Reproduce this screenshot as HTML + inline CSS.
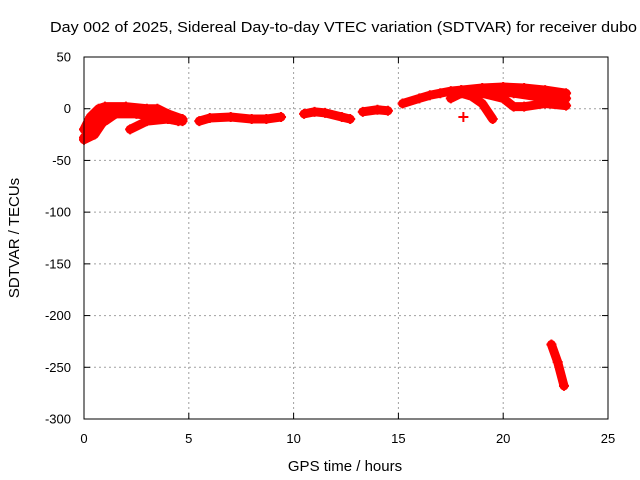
<!DOCTYPE html>
<html><head><meta charset="utf-8"><style>
body{margin:0;background:#fff}
svg{display:block;font-family:"Liberation Sans",sans-serif}
</style></head><body>
<svg id="chart" width="640" height="480" viewBox="0 0 640 480" xmlns="http://www.w3.org/2000/svg">
<text x="50" y="32" font-size="14.5" textLength="587" lengthAdjust="spacingAndGlyphs">Day 002 of 2025, Sidereal Day-to-day VTEC variation (SDTVAR) for receiver dubo</text>
<text x="345" y="471" font-size="15" text-anchor="middle">GPS time / hours</text>
<text transform="translate(19,238) rotate(-90)" font-size="15" text-anchor="middle">SDTVAR / TECUs</text>
<g id="grid"></g>
<g id="axes"></g>
<g id="marks"></g>
<rect x="84" y="57" width="524" height="362" fill="none" stroke="#000" stroke-width="1"/>
</svg>
<script>
const xTicks=[0,5,10,15,20,25];
const yTicks=[50,0,-50,-100,-150,-200,-250,-300];
const trackATime=[0,0.3,0.7,1,2,3,3.5,4,4.7];
const trackAVal=[-20,-8,0,2,2,0,0,-5,-10];
const trackBTime=[0,0.5,1,1.5,2,2.6];
const trackBVal=[-30,-25,-10,-5,-2,0];
const trackCTime=[0.3,1,1.5,2.5,3.5,4.5];
const trackCVal=[-20,-12,-5,-5,-8,-12];
const trackDTime=[2.2,3,4,4.7];
const trackDVal=[-20,-12,-10,-12];
const trackETime=[0,0.5,1.2];
const trackEVal=[-28,-15,-2];
const trackFTime=[5.5,6,7,8,8.7,9.4];
const trackFVal=[-12,-9,-8,-10,-10,-8];
const trackGTime=[10.5,11,11.5,12.3,12.7];
const trackGVal=[-5,-3,-4,-8,-10];
const trackHTime=[13.3,14,14.5];
const trackHVal=[-3,-1,-2];
const trackITime=[15.2,16,16.5,17,17.5,18,19,20,21,22,23];
const trackIVal=[5,10,13,15,17,18,20,21,20,18,15];
const trackJTime=[17.5,18,18.5,19,19.5];
const trackJVal=[10,15,12,5,-10];
const trackKTime=[18,19,20,20.5,21,22,23];
const trackKVal=[18,15,10,2,2,5,3];
const trackLTime=[19.5,20.5,21.5,23];
const trackLVal=[18,15,12,10];
const trackMTime=[22.3,22.6,22.9];
const trackMVal=[-228,-245,-268];
const isoTime=[18.1];
const isoVal=[-8];
const tracks=[[trackATime,trackAVal],[trackBTime,trackBVal],[trackCTime,trackCVal],[trackDTime,trackDVal],[trackETime,trackEVal],[trackFTime,trackFVal],[trackGTime,trackGVal],[trackHTime,trackHVal],[trackITime,trackIVal],[trackJTime,trackJVal],[trackKTime,trackKVal],[trackLTime,trackLVal],[trackMTime,trackMVal],[isoTime,isoVal]];
const X0=84,X1=608,Y0=57,Y1=419;
function sx(h){return X0+(h-0)/(25-0)*(X1-X0);}
function sy(v){return Y0+(50-v)/(50-(-300))*(Y1-Y0);}
const NS="http://www.w3.org/2000/svg";
const grid=document.getElementById('grid'),axes=document.getElementById('axes'),marks=document.getElementById('marks');
function mk(t,a,p){const e=document.createElementNS(NS,t);for(const k in a)e.setAttribute(k,a[k]);p.appendChild(e);return e;}
xTicks.forEach(t=>{const x=sx(t);
 if(t>0&&t<25){const g=mk('line',{x1:x,x2:x,y1:Y0,y2:Y1,stroke:'#a0a0a0','stroke-dasharray':'2,3'},grid);
 
 }
 const l=mk('text',{x:x,y:443,'font-size':'13','text-anchor':'middle'},axes);l.textContent=t;
 
 
 mk('line',{x1:x,x2:x,y1:Y1,y2:Y1-6,stroke:'#000'},axes);mk('line',{x1:x,x2:x,y1:Y0,y2:Y0+6,stroke:'#000'},axes);});
yTicks.forEach(t=>{const y=sy(t);
 if(t<50&&t>-300){const g=mk('line',{x1:X0,x2:X1,y1:y,y2:y,stroke:'#a0a0a0','stroke-dasharray':'2,3'},grid);
 
 }
 const l=mk('text',{x:71,y:y+4.5,'font-size':'13','text-anchor':'end'},axes);l.textContent=t;
 
 
 mk('line',{x1:X0,x2:X0+6,y1:y,y2:y,stroke:'#000'},axes);mk('line',{x1:X1,x2:X1-6,y1:y,y2:y,stroke:'#000'},axes);});
tracks.forEach(([ts,vs])=>{
 if(ts.length>1){const pl=mk('polyline',{points:ts.map((t,i)=>sx(t)+','+sy(vs[i])).join(' '),fill:'none',stroke:'#f00','stroke-width':'9','stroke-linejoin':'round','stroke-linecap':'round'},marks);
 
 }
 ts.forEach((t,i)=>{const x=sx(t),y=sy(vs[i]);
  const p=mk('path',{d:`M${x-5},${y}H${x+5}M${x},${y-5}V${y+5}`,stroke:'#f00','stroke-width':'2'},marks);
  
  });
});
</script>
</body></html>
